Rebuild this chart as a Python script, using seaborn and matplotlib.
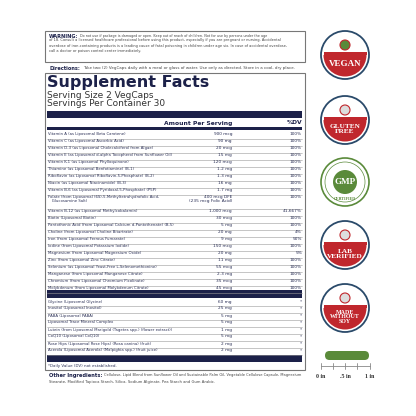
import matplotlib
matplotlib.use("Agg")
import matplotlib.pyplot as plt
import seaborn as sns
import pandas as pd
from matplotlib.patches import Rectangle, Circle, Wedge, FancyBboxPatch

sns.set_theme(style="white")
plt.rcParams['font.family'] = ['DejaVu Sans']

vit_names = ["Vitamin A (as Liposomal Beta Carotene)", "Vitamin C (as Liposomal Ascorbic Acid)",
    "Vitamin D-3 (as Liposomal Cholecalciferol from Algae)", "Vitamin E (as Liposomal d-alpha Tocopherol from Sunflower Oil)",
    "Vitamin K-1 (as Liposomal Phylloquinone)", "Thiamine (as Liposomal Benfotiamine) (B-1)",
    "Riboflavin (as Liposomal Riboflavin-5-Phosphate) (B-2)", "Niacin (as Liposomal Niacinamide) (B-3)",
    "Vitamin B-6 (as Liposomal Pyridoxal-5-Phosphate) (P5P)",
    "Folate (from Liposomal (6S)-5-Methyltetrahydrofolic Acid,\n   Glucosamine Salt)",
    "Vitamin B-12 (as Liposomal Methylcobalamin)", "Biotin (Liposomal Biotin)",
    "Pantothenic Acid (from Liposomal Calcium d-Pantothenate) (B-5)", "Choline (from Liposomal Choline Bitartrate)",
    "Iron (from Liposomal Ferrous Fumarate)", "Iodine (from Liposomal Potassium Iodide)",
    "Magnesium (from Liposomal Magnesium Oxide)", "Zinc (from Liposomal Zinc Citrate)",
    "Selenium (as Liposomal Yeast-Free L-Selenomethionine)", "Manganese (from Liposomal Manganese Citrate)",
    "Chromium (from Liposomal Chromium Picolinate)", "Molybdenum (from Liposomal Molybdenum Citrate)"]
vit_amounts = ["900 mcg", "90 mg", "20 mcg", "15 mg", "120 mcg", "1.2 mg", "1.3 mg", "16 mg", "1.7 mg",
    "400 mcg DFE\n(235 mcg Folic Acid)", "1,000 mcg", "30 mcg", "5 mg", "20 mg", "9 mg", "150 mcg",
    "20 mg", "11 mg", "55 mcg", "2.3 mg", "35 mcg", "45 mcg"]
vit_dv = ["100%"] * 10 + ["41,667%", "100%", "100%", "4%", "50%", "100%", "5%", "100%", "100%", "100%", "100%", "100%"]

oth_names = ["Glycine (Liposomal Glycine)", "Inositol (Liposomal Inositol)", "PABA (Liposomal PABA)",
    "Liposomal Trace Mineral Complex", "Lutein (from Liposomal Marigold (Tagetes spp.) (flower extract))",
    "CoQ10 (Liposomal CoQ10)", "Rose Hips (Liposomal Rose Hips) (Rosa canina) (fruit)",
    "Acerola (Liposomal Acerola) (Malpighia spp.) (fruit juice)"]
oth_amounts = ["60 mg", "25 mg", "5 mg", "5 mg", "1 mg", "5 mg", "2 mg", "2 mg"]

badges = ["VEGAN", "GLUTEN\nFREE", "GMP", "LAB\nVERIFIED", "MADE\nWITHOUT\nSOY"]
badge_y = [55, 120, 182, 245, 308]

NAVY = "#1c2149"; RED = "#c0272d"; GREEN = "#5a8a3a"; TXT = "#2a2f55"

fig = plt.figure(figsize=(4.16, 4.16), dpi=100)
ax = fig.add_axes([0, 0, 1, 1])
ax.set_xlim(0, 416); ax.set_ylim(416, 0); ax.axis("off")

ax.add_patch(Rectangle((45, 31), 260, 31, fill=False, ec="#777", lw=0.8))
ax.text(49, 36, "WARNING:", fontsize=3.6, weight="bold", color=NAVY, va="center")
ax.text(80, 36, "Do not use if package is damaged or open. Keep out of reach of children. Not for use by persons under the age",
        fontsize=2.7, color="#444", va="center", stretch="condensed")
warn = ("of 18. Consult a licensed healthcare professional before using this product, especially if you are pregnant or nursing. Accidental\n"
        "overdose of iron-containing products is a leading cause of fatal poisoning in children under age six. In case of accidental overdose,\n"
        "call a doctor or poison control center immediately.")
ax.text(49, 38.5, warn, fontsize=2.9, color="#444", va="top", linespacing=1.35, stretch="condensed")
ax.text(49, 68, "Directions:", fontsize=3.6, weight="bold", color=NAVY, va="center")
ax.text(83, 68, "Take two (2) VegCaps daily with a meal or glass of water. Use only as directed. Store in a cool, dry place.",
        fontsize=2.9, color="#444", va="center")

ax.add_patch(Rectangle((45, 73), 260, 297, fill=False, ec="#777", lw=0.8))
ax.text(47, 82, "Supplement Facts", fontsize=11.5, weight="bold", color=NAVY, va="center")
ax.text(47, 95, "Serving Size 2 VegCaps", fontsize=6.5, color="#333", va="center")
ax.text(47, 104, "Servings Per Container 30", fontsize=6.5, color="#333", va="center")
ax.add_patch(Rectangle((47, 111), 255, 7, color=NAVY, lw=0))
ax.text(232, 123, "Amount Per Serving", fontsize=4.3, weight="bold", color=NAVY, ha="right", va="center")
ax.text(302, 123, "%DV", fontsize=4.3, weight="bold", color=NAVY, ha="right", va="center")
ax.add_patch(Rectangle((47, 127), 255, 3, color=NAVY, lw=0))

rows = pd.DataFrame({"name": vit_names, "amt": vit_amounts, "dv": vit_dv})
y = 131.5; h = 7.0
for _, r in rows.iterrows():
    n = 2 if "\n" in r["name"] else 1
    ax.text(48, y + 0.5, r["name"], fontsize=3.1, color=TXT, va="top", linespacing=1.15, stretch="condensed")
    ax.text(232, y + 0.5, r["amt"], fontsize=3.1, color=TXT, va="top", ha="right", linespacing=1.15, multialignment="right")
    ax.text(302, y + 0.5, r["dv"], fontsize=3.1, color=TXT, va="top", ha="right")
    y += h * n
    ax.plot([47, 302], [y, y], color="#999", lw=0.4)
ax.add_patch(Rectangle((47, 290), 255, 8, color=NAVY, lw=0))
y = 299
for nm, am in zip(oth_names, oth_amounts):
    ax.text(48, y + 0.5, nm, fontsize=3.1, color=TXT, va="top", stretch="condensed")
    ax.text(232, y + 0.5, am, fontsize=3.1, color=TXT, va="top", ha="right")
    ax.text(302, y + 0.5, "*", fontsize=3.1, color=TXT, va="top", ha="right")
    y += h
    ax.plot([47, 302], [y, y], color="#999", lw=0.4)
ax.add_patch(Rectangle((47, 355), 255, 7, color=NAVY, lw=0))
ax.text(48, 366, "*Daily Value (DV) not established.", fontsize=2.9, color=TXT, va="center")
ax.text(49, 375, "Other Ingredients:", fontsize=3.7, weight="bold", color=NAVY, va="center")
ax.text(104, 375, "Cellulose, Lipid Blend from Sunflower Oil and Sustainable Palm Oil, Vegetable Cellulose Capsule, Magnesium",
        fontsize=2.6, color="#444", va="center")
ax.text(49, 382, "Stearate, Modified Tapioca Starch, Silica, Sodium Alginate, Pea Starch and Gum Arabic.",
        fontsize=2.7, color="#444", va="center")

for lab, by in zip(badges, badge_y):
    cx = 345
    if lab == "GMP":
        ax.add_patch(Circle((cx, by), 24, fc="white", ec=GREEN, lw=1.2))
        ax.add_patch(Circle((cx, by), 20, fc="none", ec=GREEN, lw=0.5))
        ax.add_patch(Circle((cx, by), 12, fc=GREEN, ec="none"))
        ax.text(cx, by, "GMP", fontsize=6.5, weight="bold", color="white", ha="center", va="center", family="Liberation Serif")
        ax.text(cx, by + 17, "CERTIFIED", fontsize=3, weight="bold", color=GREEN, ha="center", va="center", family="Liberation Serif")
        continue
    ax.add_patch(Circle((cx, by), 24, fc="white", ec="#2a4a6a", lw=1.3))
    ax.add_patch(Wedge((cx, by), 21.5, 0, 180, fc=RED, ec="none"))
    ax.add_patch(Rectangle((cx - 21.5, by - 3), 43, 3, color=RED, lw=0))
    ax.add_patch(Circle((cx, by - 10), 5, fc=GREEN if lab == "VEGAN" else "#ddd", ec=RED, lw=0.8))
    n = lab.count("\n") + 1
    ax.text(cx, by + 9, lab, fontsize=6.5 if n == 1 else (5.2 if n == 2 else 4.3), weight="bold", color="white",
            ha="center", va="center", family="Liberation Serif", linespacing=0.95)

ax.add_patch(FancyBboxPatch((325, 351), 44, 9, boxstyle="round,pad=0,rounding_size=4.5", fc=GREEN, ec="none"))
ax.plot([321, 370], [366, 366], color="#888", lw=0.6)
for sx, sl in zip([321, 333, 345, 357, 370], ["0 in", "", ".5 in", "", "1 in"]):
    ax.plot([sx, sx], [363, 369], color="#888", lw=0.6)
    if sl:
        ax.text(sx, 377, sl, fontsize=4.3, weight="bold", color="#333", ha="center", va="center", family="Liberation Serif")

fig.savefig("out.png", dpi=100, facecolor="white")
